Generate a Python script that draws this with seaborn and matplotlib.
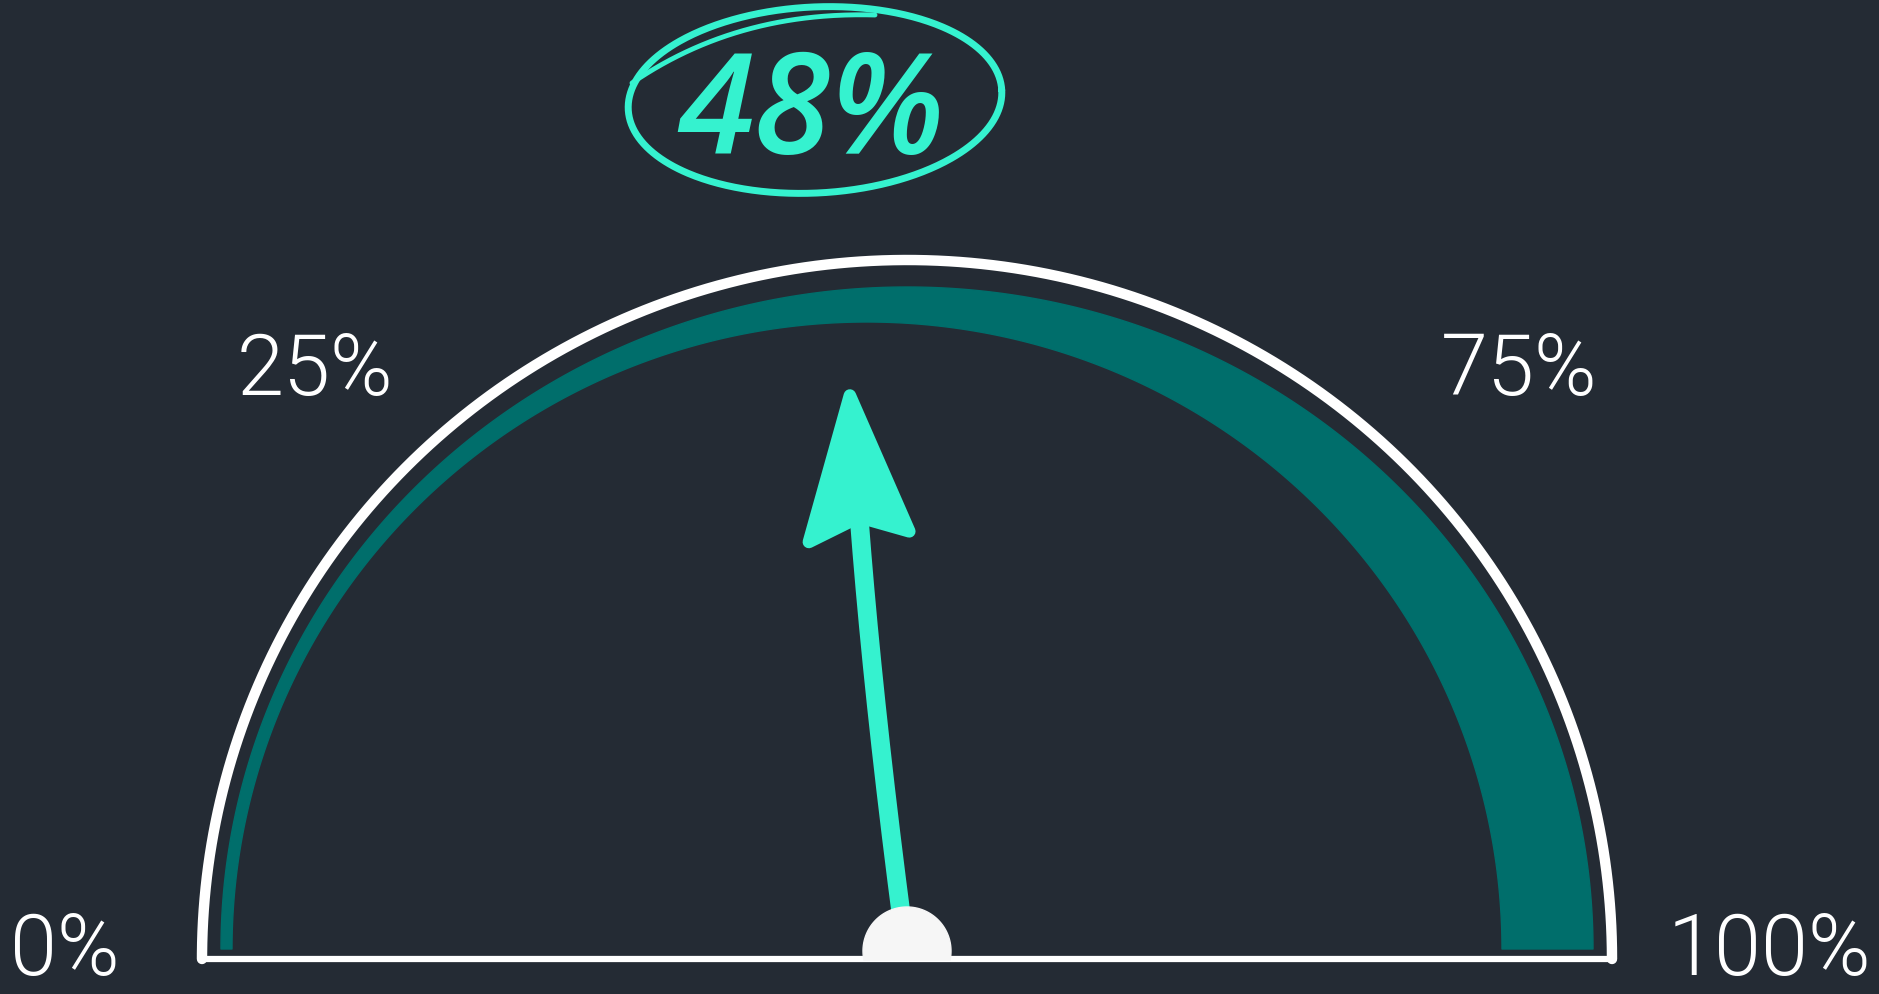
import numpy as np
import pandas as pd
import matplotlib
matplotlib.use("Agg")
import matplotlib.pyplot as plt
import seaborn as sns
from matplotlib.patches import Polygon

# ---------------- data ----------------
value = 48                      # gauge reading (%)
tick_values = [0, 25, 75, 100]  # labelled positions
tick_labels = ["0%", "25%", "75%", "100%"]
value_label = "48%"

# ---------------- style ----------------
BG = "#242b34"
TEAL_DARK = "#006e6b"
AQUA = "#35f2cf"
WHITE = "#ffffff"

sns.set_theme(style="dark", rc={"axes.facecolor": BG, "figure.facecolor": BG})

W, H = 1879, 994
fig = plt.figure(figsize=(W / 100, H / 100), dpi=100)
ax = fig.add_axes([0, 0, 1, 1])
ax.set_facecolor(BG)

CX, CY = 907, 959        # gauge pivot (pixel space, y downward)
R_OUT = 705              # white outline radius


def angle_of(v):
    return np.pi * (1 - v / 100.0)


def qbez(p0, p1, p2, n=200):
    s = np.linspace(0, 1, n)[:, None]
    return (1 - s) ** 2 * p0 + 2 * (1 - s) * s * p1 + s ** 2 * p2


# white outline (semicircle) via seaborn
t = np.linspace(0, np.pi, 400)
outline = pd.DataFrame({
    "x": CX + R_OUT * np.cos(t),
    "y": CY - 699 * np.sin(t),
    "order": np.arange(t.size),
})
sns.lineplot(data=outline, x="x", y="y", sort=False, estimator=None,
             color=WHITE, linewidth=7.5, ax=ax, legend=False)
ax.plot([CX - R_OUT, CX + R_OUT], [CY, CY], color=WHITE, lw=4.5,
        solid_capstyle="round")

# teal band (eccentric crescent spanning 0..100)
ta = np.linspace(0, np.pi, 400)
band_bottom = CY - 10
outer = np.column_stack([CX + 686 * np.cos(ta), band_bottom - 662 * np.sin(ta)])
inner = np.column_stack([CX - 40 + 635 * np.cos(ta[::-1]),
                         band_bottom - 627 * np.sin(ta[::-1])])
ax.add_patch(Polygon(np.vstack([outer, inner]), closed=True,
                     facecolor=TEAL_DARK, edgecolor=TEAL_DARK, lw=1,
                     joinstyle="round", zorder=2))

# needle (hand-drawn, slightly bent shaft)
a = angle_of(value)
d = np.array([np.cos(a), -np.sin(a)])          # direction (pixel space)
n = np.array([-d[1], d[0]])                    # perpendicular (to the right)
base = np.array([CX - 4.0, CY - 30.0])
notch = np.array([CX, CY]) + 440 * d - 20 * n
ctrl = np.array([base[0] - 30.0, 700.0])
shaft = qbez(base, ctrl, notch)
ax.plot(shaft[:, 0], shaft[:, 1], color=AQUA, lw=13.5,
        solid_capstyle="round", zorder=4)
u = (notch - ctrl) / np.linalg.norm(notch - ctrl)
un = np.array([-u[1], u[0]])
tip = notch + 126 * u
head = np.array([
    tip,
    notch - 17 * u - 52 * un,
    notch + 4 * u,
    notch - 14 * u + 49 * un,
])
ax.add_patch(Polygon(head, closed=True, facecolor=AQUA, edgecolor=AQUA,
                     lw=9, joinstyle="round", zorder=5))

# knob
kr = 44
kc = (CX, CY - 8)
tk = np.linspace(np.radians(-12), np.radians(192), 200)
knob = np.column_stack([kc[0] + kr * np.cos(tk), kc[1] - kr * np.sin(tk)])
ax.add_patch(Polygon(knob, closed=True, facecolor="#f6f6f6",
                     edgecolor="#f6f6f6", lw=1, zorder=6))

# tick labels
RLX, RLY = 852, 820
LX = CX + 10
for v, lab in zip(tick_values, tick_labels):
    aa = angle_of(v)
    x = LX + RLX * np.cos(aa)
    y = CY - 13 - RLY * np.sin(aa)
    ax.text(x, y + 29, lab, color=WHITE, fontsize=61, ha="center",
            va="baseline", family=["Roboto", "DejaVu Sans"], fontweight=300,
            zorder=7)

# value label with hand-drawn ellipse
ex, ey = CX - 92, 100
phi = np.radians(3)
te = np.linspace(0, 2 * np.pi, 500)
ea, eb = 187, 93
xe = ex + ea * np.cos(te) * np.cos(phi) - eb * np.sin(te) * np.sin(phi)
ye = ey - (ea * np.cos(te) * np.sin(phi) + eb * np.sin(te) * np.cos(phi))
ax.plot(xe, ye, color=AQUA, lw=5, solid_capstyle="round", zorder=7)
tail = qbez(np.array([ex - 183, ey - 17]), np.array([ex - 78, ey - 89]),
            np.array([ex + 60, ey - 85]))
ax.plot(tail[:, 0], tail[:, 1], color=AQUA, lw=3.5, solid_capstyle="round",
        zorder=7)

ax.text(ex - 4, ey + 54, value_label, color=AQUA, fontsize=100, ha="center",
        va="baseline", family=["Open Sans", "DejaVu Sans"],
        fontweight="semibold", style="italic", zorder=8)

ax.set_xlim(0, W)
ax.set_ylim(H, 0)
ax.set_xlabel("")
ax.set_ylabel("")
ax.axis("off")

fig.savefig("out.png", dpi=100, facecolor=BG)
